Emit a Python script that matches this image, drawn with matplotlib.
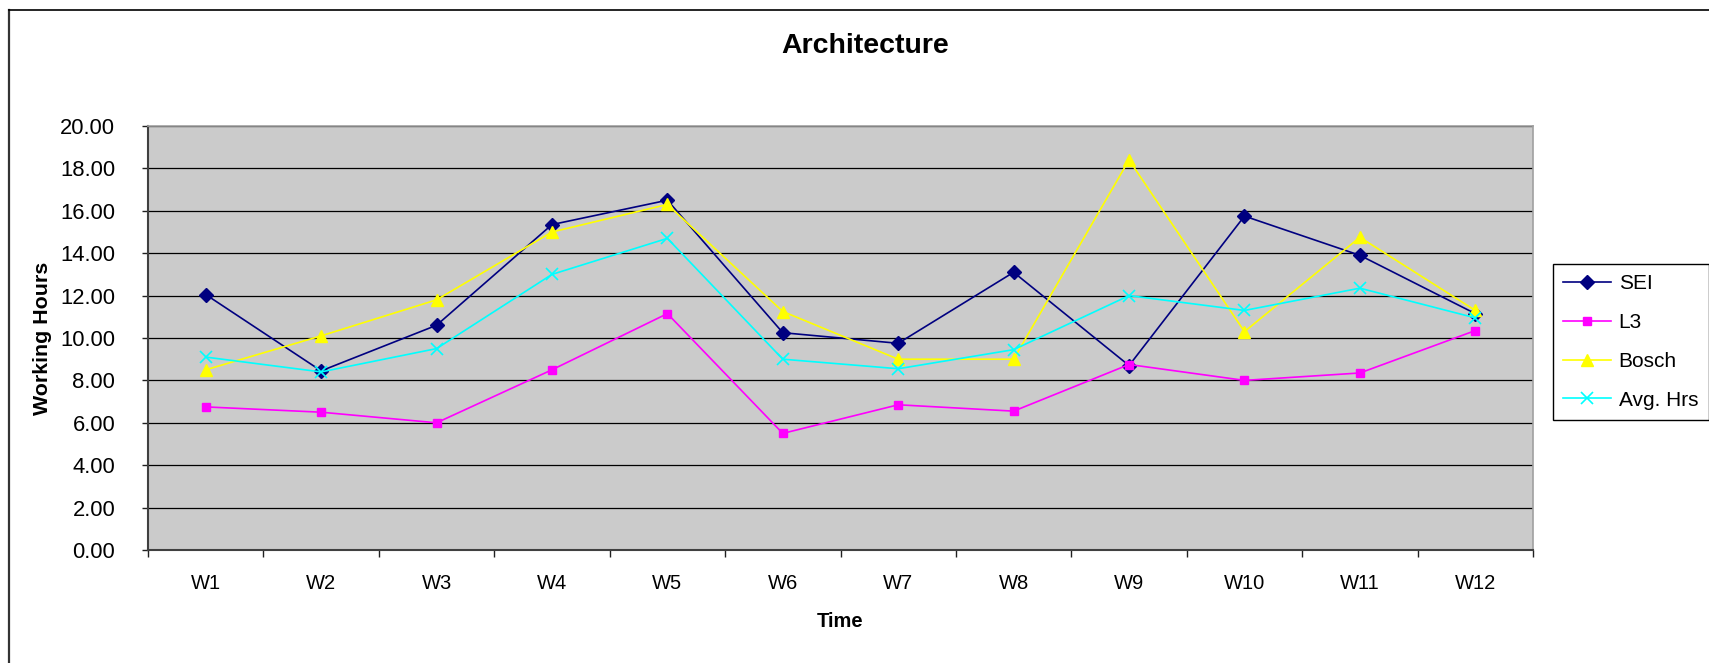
import numpy as np
import matplotlib.pyplot as plt
from matplotlib.lines import Line2D

weeks = ['W1', 'W2', 'W3', 'W4', 'W5', 'W6', 'W7', 'W8', 'W9', 'W10', 'W11', 'W12']
sei = [12.05, 8.45, 10.6, 15.35, 16.5, 10.25, 9.75, 13.1, 8.7, 15.75, 13.9, 11.15]
l3 = [6.75, 6.5, 6.0, 8.5, 11.15, 5.5, 6.85, 6.55, 8.75, 8.0, 8.35, 10.35]
bosch = [8.5, 10.1, 11.8, 15.0, 16.3, 11.25, 9.0, 9.0, 18.4, 10.3, 14.75, 11.3]
avg_hrs = [9.1, 8.4, 9.5, 13.0, 14.7, 9.0, 8.55, 9.45, 12.0, 11.3, 12.35, 10.95]

plt.rcParams['font.family'] = ['Liberation Sans', 'DejaVu Sans']

W, H = 1709, 663
fig = plt.figure(figsize=(W / 100, H / 100), dpi=100)
ax = fig.add_axes([148 / W, 1 - 550 / H, (1533 - 148) / W, (550 - 126) / H])
ax.set_facecolor('#cbcbcb')

x = np.arange(len(weeks))
ax.plot(x, sei, color='#000080', lw=1.2, marker='D', ms=7, label='SEI')
ax.plot(x, l3, color='#ff00ff', lw=1.2, marker='s', ms=5.5, label='L3')
ax.plot(x, bosch, color='#ffff00', lw=1.2, marker='^', ms=8.5, label='Bosch')
ax.plot(x, avg_hrs, color='#00ffff', lw=1.2, marker='x', ms=8, mew=1.2, label='Avg. Hrs')

ax.set_xlim(-0.5, len(weeks) - 0.5)
ax.set_ylim(0, 20)
ax.set_yticks(np.arange(0, 21, 2))
ax.set_yticklabels([f'{v:.2f}' for v in np.arange(0, 21, 2)])
ax.yaxis.grid(True, color='black', lw=0.9)
ax.set_axisbelow(True)

ax.set_xticks(x)
ax.set_xticklabels(weeks)
ax.set_xticks(np.arange(-0.5, len(weeks)), minor=True)
ax.tick_params(axis='x', which='major', length=0, pad=17, labelsize=14.5)
ax.tick_params(axis='x', which='minor', length=5, width=1, color='#202020', direction='out')
ax.tick_params(axis='y', length=4.5, width=1, color='#202020', pad=19, labelsize=15.8)

for s in ['left', 'bottom']:
    ax.spines[s].set_color('#404040')
    ax.spines[s].set_linewidth(1.5)
for s in ['right', 'top']:
    ax.spines[s].set_color('#a0a0a0')
    ax.spines[s].set_linewidth(1.2)

ax.set_xlabel('Time', fontsize=14.5, fontweight='bold', labelpad=14)
ax.set_ylabel('Working Hours', fontsize=15.4, fontweight='bold', labelpad=6)
fig.text(865 / W, 1 - 46 / H, 'Architecture', ha='center', va='center',
         fontsize=20.5, fontweight='bold')

leg = fig.legend(loc='upper left', bbox_to_anchor=(1553 / W, 1 - 264 / H),
                 fontsize=15, frameon=True, fancybox=False, framealpha=1,
                 edgecolor='black', handlelength=2.3, handletextpad=0.35,
                 labelspacing=0.95, borderpad=0.5, borderaxespad=0)
leg.get_frame().set_linewidth(1.0)

# outer chart frame (left and top edges only)
fig.add_artist(Line2D([8.5 / W, 8.5 / W], [0, 1 - 9.5 / H], color='#333333', lw=1.6,
                      transform=fig.transFigure))
fig.add_artist(Line2D([8.5 / W, 1], [1 - 9.5 / H, 1 - 9.5 / H], color='black', lw=1.2,
                      transform=fig.transFigure))

fig.savefig('out.png', dpi=100)
